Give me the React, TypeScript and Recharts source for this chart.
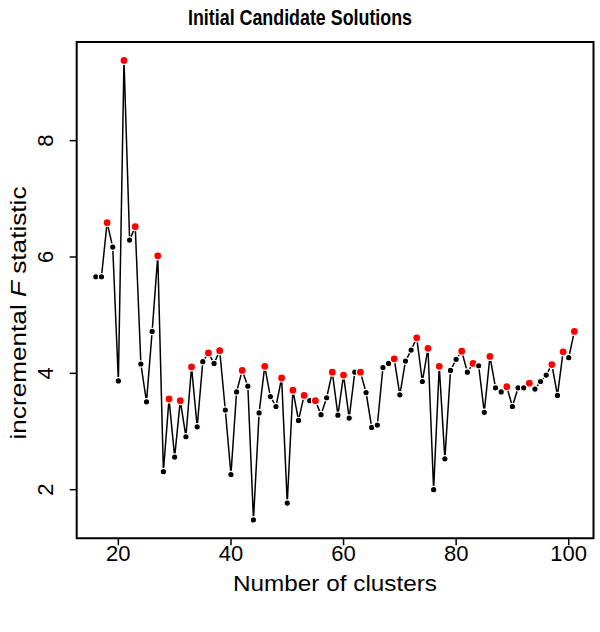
import React from 'react';
import { LineChart, Line, XAxis, YAxis, ReferenceArea, Customized } from 'recharts';

const clusters = [
  16, 17, 18, 19, 20, 21, 22, 23, 24, 25, 26, 27, 28, 29, 30, 31, 32, 33, 34, 35,
  36, 37, 38, 39, 40, 41, 42, 43, 44, 45, 46, 47, 48, 49, 50, 51, 52, 53, 54, 55,
  56, 57, 58, 59, 60, 61, 62, 63, 64, 65, 66, 67, 68, 69, 70, 71, 72, 73, 74, 75,
  76, 77, 78, 79, 80, 81, 82, 83, 84, 85, 86, 87, 88, 89, 90, 91, 92, 93, 94, 95,
  96, 97, 98, 99, 100, 101,
];

const fStat = [
  5.66, 5.66, 6.59, 6.17, 3.87, 9.38, 6.29, 6.52, 4.16, 3.51, 4.72, 6.02, 2.31, 3.56, 2.56, 3.53, 2.91, 4.11, 3.08, 4.2,
  4.35, 4.17, 4.39, 3.37, 2.26, 3.68, 4.05, 3.78, 1.48, 3.32, 4.12, 3.6, 3.43, 3.92, 1.77, 3.71, 3.19, 3.62, 3.53, 3.53,
  3.29, 3.58, 4.02, 3.28, 3.97, 3.23, 4.02, 4.02, 3.67, 3.07, 3.11, 4.1, 4.17, 4.25, 3.63, 4.21, 4.4, 4.61, 3.86, 4.43,
  2.0, 4.12, 2.53, 4.05, 4.24, 4.38, 4.02, 4.17, 4.13, 3.33, 4.29, 3.75, 3.68, 3.77, 3.43, 3.75, 3.75, 3.83, 3.73, 3.86,
  3.97, 4.15, 3.62, 4.37, 4.27, 4.72,
];

const highlighted = [18, 21, 23, 27, 29, 31, 33, 36, 38, 42, 46, 49, 51, 53, 55, 58, 60, 63, 69, 73, 75, 77, 81, 83, 86, 89, 93, 97, 99, 101];

const xTicks = [20, 40, 60, 80, 100];
const yTicks = [2, 4, 6, 8];

const titleText = 'Initial Candidate Solutions';
const xTitle = 'Number of clusters';

const data = clusters.map((k, i) => ({ k, f: fStat[i], hi: highlighted.includes(k) }));

const FONT = '"Liberation Sans", Arial, Helvetica, sans-serif';

const XDOM: [number, number] = [12.6, 104.4];
const YDOM: [number, number] = [1.164, 9.696];

const Dot = (p: any) => {
  const { cx, cy, payload } = p;
  if (cx == null || cy == null) return null;
  const hi = payload.hi;
  return (
    <circle
      key={`d${payload.k}`}
      cx={cx}
      cy={cy}
      r={hi ? 4.0 : 3.2}
      fill={hi ? '#ff0000' : '#000000'}
      stroke="#ffffff"
      strokeWidth={1.2}
    />
  );
};

const XTick = (p: any) => (
  <text x={p.x} y={553} dy="0.36em" textAnchor="middle" fontFamily={FONT} fontSize={22} fill="#000">
    {p.payload.value}
  </text>
);

const YTick = (p: any) => (
  <text
    x={45}
    y={p.y}
    transform={`rotate(-90 45 ${p.y})`}
    textAnchor="middle"
    dy="0.36em"
    fontFamily={FONT}
    fontSize={22}
    fill="#000"
  >
    {p.payload.value}
  </text>
);

const Texts = () => (
  <g>
    <text
      x={300}
      y={17}
      dy="0.36em"
      textAnchor="middle"
      fontFamily={FONT}
      fontSize={22}
      fontWeight="bold"
      fill="#000"
      textLength={224}
      lengthAdjust="spacingAndGlyphs"
    >
      {titleText}
    </text>
    <text
      x={335}
      y={583}
      dy="0.36em"
      textAnchor="middle"
      fontFamily={FONT}
      fontSize={22}
      fill="#000"
      textLength={204}
      lengthAdjust="spacingAndGlyphs"
    >
      {xTitle}
    </text>
    <text
      x={18}
      y={313}
      transform="rotate(-90 18 313)"
      textAnchor="middle"
      dy="0.36em"
      fontFamily={FONT}
      fontSize={22}
      fill="#000"
      textLength={253}
      lengthAdjust="spacingAndGlyphs"
    >
      incremental <tspan fontStyle="italic">F</tspan> statistic
    </text>
  </g>
);

export default function App() {
  return (
    <div style={{ position: 'absolute', left: 0, top: 0, width: 600, height: 632, background: '#fff' }}>
      <LineChart width={600} height={632} data={data} margin={{ top: 42, right: 6.5, left: 0, bottom: 0 }}>
        <XAxis
          dataKey="k"
          type="number"
          domain={XDOM}
          allowDataOverflow
          ticks={xTicks}
          tickSize={7}
          axisLine={false}
          tickLine={{ stroke: '#000', strokeWidth: 1.5 }}
          tick={XTick}
          height={93.7}
          interval={0}
        />
        <YAxis
          type="number"
          domain={YDOM}
          allowDataOverflow
          ticks={yTicks}
          tickSize={7}
          axisLine={false}
          tickLine={{ stroke: '#000', strokeWidth: 1.5 }}
          tick={YTick}
          width={76.7}
          interval={0}
        />
        <ReferenceArea x1={XDOM[0]} x2={XDOM[1]} y1={YDOM[0]} y2={YDOM[1]} fill="none" fillOpacity={0} stroke="#000" strokeWidth={2} strokeOpacity={1} />
        <Line
          dataKey="f"
          stroke="#000"
          strokeWidth={1.5}
          dot={Dot}
          activeDot={false}
          isAnimationActive={false}
        />
        <Customized component={Texts} />
      </LineChart>
    </div>
  );
}
